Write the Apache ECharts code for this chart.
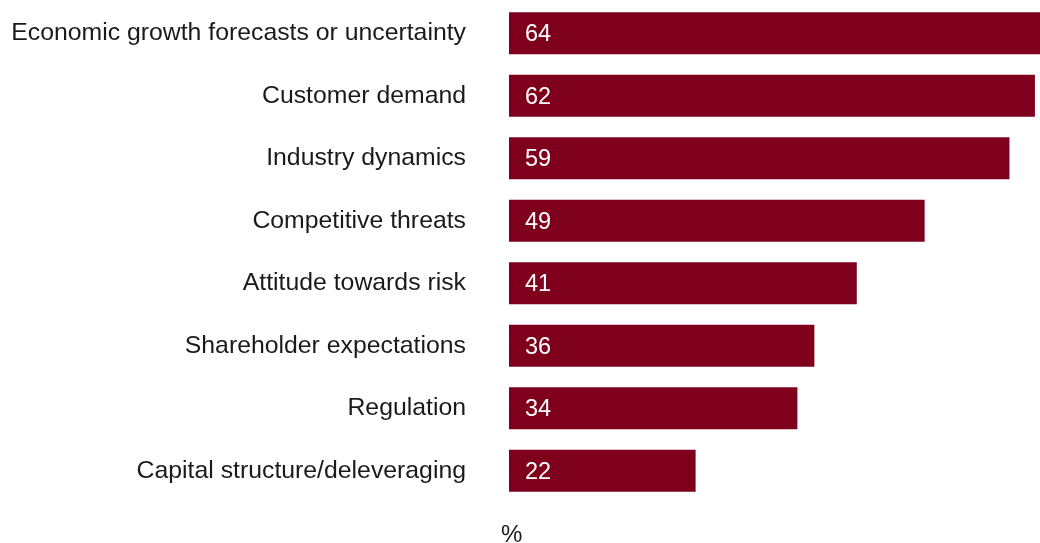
<!DOCTYPE html>
<html>
<head>
<meta charset="utf-8">
<script src="https://cdn.jsdelivr.net/npm/echarts@6/dist/echarts.min.js"></script>
<style>
html,body{margin:0;padding:0;background:#fff;}
#chart{width:1040px;height:543px;}
</style>
</head>
<body>
<div id="chart"></div>
<script>
const categories = [
  "Economic growth forecasts or uncertainty",
  "Customer demand",
  "Industry dynamics",
  "Competitive threats",
  "Attitude towards risk",
  "Shareholder expectations",
  "Regulation",
  "Capital structure/deleveraging"
];
const values = [64, 62, 59, 49, 41, 36, 34, 22];
const axisName = "%";

const chart = echarts.init(document.getElementById('chart'));
chart.setOption({
  animation: false,
  title: {
    text: axisName,
    left: 496,
    top: 518,
    textStyle: { fontFamily: 'Liberation Sans, Arial, sans-serif', fontSize: 24, fontWeight: 'normal', color: '#1a1a1a' }
  },
  grid: { left: 509, top: 2, right: 0, height: 500, containLabel: false },
  xAxis: {
    type: 'value',
    min: 0,
    max: 62.6,
    show: false
  },
  yAxis: {
    type: 'category',
    data: categories,
    inverse: true,
    axisLine: { show: false },
    axisTick: { show: false },
    axisLabel: {
      margin: 43,
      fontFamily: 'Liberation Sans, Arial, sans-serif',
      fontSize: 24.8,
      color: '#1a1a1a'
    }
  },
  series: [{
    type: 'bar',
    data: values,
    barWidth: 42,
    clip: true,
    itemStyle: { color: '#7f001c' },
    label: {
      show: true,
      position: 'insideLeft',
      distance: 16,
      offset: [0, 1.5],
      fontFamily: 'Liberation Sans, Arial, sans-serif',
      fontSize: 23.5,
      color: '#ffffff'
    }
  }]
});
</script>
</body>
</html>
